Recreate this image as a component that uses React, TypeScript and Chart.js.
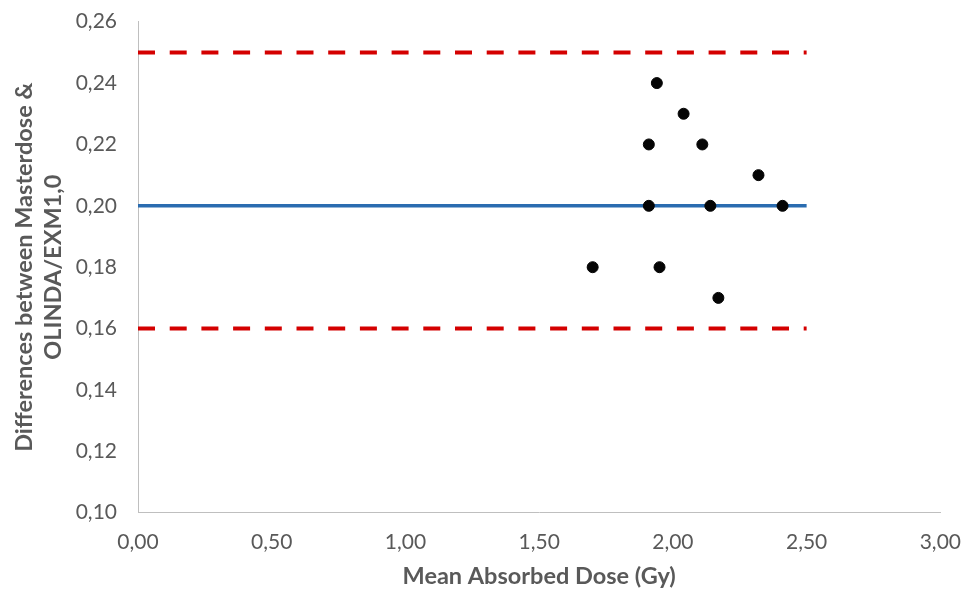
import React, { useEffect, useRef } from "react";
import { Chart, registerables } from "chart.js";

Chart.register(...registerables);

// Data
const meanDose: number[] = [1.70, 1.91, 1.91, 1.94, 1.95, 2.04, 2.11, 2.14, 2.17, 2.32, 2.41];
const doseDiff: number[] = [0.18, 0.22, 0.20, 0.24, 0.18, 0.23, 0.22, 0.20, 0.17, 0.21, 0.20];
const lineRange: number[] = [0, 2.5];
const meanDiff = 0.20;
const upperLimit = 0.25;
const lowerLimit = 0.16;

const xTitle = "Mean Absorbed Dose (Gy)";
const yTitle: string[] = ["Differences between Masterdose &", "OLINDA/EXM1,0"];

const W = 978;
const H = 589;

export default function App() {
  const ref = useRef<HTMLCanvasElement | null>(null);

  useEffect(() => {
    if (!ref.current) return;
    const points = meanDose.map((x, i) => ({ x, y: doseDiff[i] }));
    const hline = (v: number) => lineRange.map((x) => ({ x, y: v }));
    const fontFamily = "Lato, 'Open Sans', sans-serif";
    const gray = "#595959";
    const fmt = (v: any) => Number(v).toFixed(2).replace(".", ",");

    const chart = new Chart(ref.current, {
      type: "scatter",
      data: {
        datasets: [
          {
            label: "Differences",
            data: points,
            backgroundColor: "#050505",
            borderColor: "#050505",
            pointRadius: 5.5,
            pointHoverRadius: 5.5,
            showLine: false,
          },
          {
            label: "Mean",
            data: hline(meanDiff),
            showLine: true,
            borderColor: "#2a6cb0",
            borderWidth: 3.5,
            pointRadius: 0,
            fill: false,
          },
          {
            label: "Upper",
            data: hline(upperLimit),
            showLine: true,
            borderColor: "#d40000",
            borderWidth: 4,
            borderDash: [17, 14.7],
            pointRadius: 0,
            fill: false,
          },
          {
            label: "Lower",
            data: hline(lowerLimit),
            showLine: true,
            borderColor: "#d40000",
            borderWidth: 4,
            borderDash: [17, 14.7],
            pointRadius: 0,
            fill: false,
          },
        ],
      },
      options: {
        responsive: false,
        animation: false,
        layout: { padding: { left: 0, right: 37, top: 21.7, bottom: 0 } },
        plugins: {
          legend: { display: false },
          tooltip: { enabled: false },
        },
        scales: {
          x: {
            type: "linear",
            min: 0,
            max: 3,
            grid: { display: false, drawTicks: false },
            border: { display: true, color: "#bfbfbf", width: 1 },
            ticks: {
              stepSize: 0.5,
              padding: 17,
              color: gray,
              font: { family: fontFamily, size: 21 },
              callback: fmt,
            },
            title: {
              display: true,
              text: xTitle,
              color: gray,
              font: { family: fontFamily, size: 23.5, weight: "bold", lineHeight: 1.1 },
              padding: { top: 0, bottom: 0 },
            },
            afterFit: (s: any) => {
              s.height = H - 512.7;
            },
          },
          y: {
            type: "linear",
            min: 0.1,
            max: 0.26,
            grid: { display: false, drawTicks: false },
            border: { display: true, color: "#bfbfbf", width: 1 },
            ticks: {
              stepSize: 0.02,
              padding: 21,
              color: gray,
              font: { family: fontFamily, size: 21 },
              callback: fmt,
            },
            title: {
              display: true,
              text: yTitle,
              color: gray,
              font: { family: fontFamily, size: 23.5, weight: "bold", lineHeight: 1.24 },
              padding: { top: 9.5, bottom: 0 },
            },
            afterFit: (s: any) => {
              s.width = 138;
              s.paddingTop = 0;
              s.paddingBottom = 0;
            },
          },
        },
      },
    } as any);
    return () => chart.destroy();
  }, []);

  return (
    <div style={{ position: "absolute", left: 0, top: 0, width: W, height: H, background: "#fff" }}>
      <canvas ref={ref} width={W} height={H} style={{ display: "block" }} />
    </div>
  );
}
